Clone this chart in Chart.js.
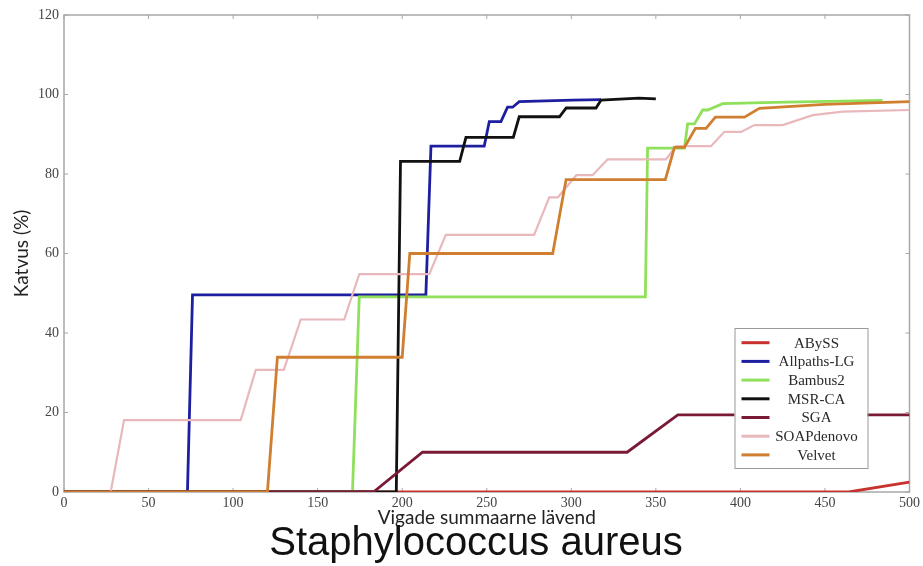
<!DOCTYPE html>
<html>
<head>
<meta charset="utf-8">
<script src="https://cdn.jsdelivr.net/npm/chart.js@4.4.1/dist/chart.umd.min.js"></script>
<style>
    html, body { margin: 0; padding: 0; background: #fff; }
</style>
</head>
<body>
<canvas id="coverageChart" width="923" height="566"></canvas>
<script>
// Assemblers (legend order)
const seriesNames = ['ABySS', 'Allpaths-LG', 'Bambus2', 'MSR-CA', 'SGA', 'SOAPdenovo', 'Velvet'];
const seriesColors = ['#c8322e', '#1e1ea0', '#8fe05a', '#111111', '#7a1a35', '#e8b8bc', '#cf7f2f'];
const chartTitle = 'Staphylococcus aureus';

// x = error threshold, y = coverage (%)
const abyssX = [0, 464, 500];
const abyssY = [0, 0, 2.5];

const allpathsX = [0, 73, 76, 214, 217, 248.5, 251.5, 258.4, 262.3, 265.3, 269.2, 300.6, 317.6];
const allpathsY = [0, 0, 49.6, 49.6, 87, 87, 93.2, 93.2, 96.8, 96.8, 98.2, 98.6, 98.7];

const bambusX = [0, 170.6, 174.6, 343.8, 345.1, 366.9, 368.8, 372.8, 377.7, 380.7, 389.5, 420, 484];
const bambusY = [0, 0, 49.1, 49.1, 86.5, 86.5, 92.6, 92.6, 96.1, 96.1, 97.7, 98, 98.5];

const msrcaX = [0, 196.5, 199, 234, 237.7, 265.7, 269.2, 293, 297, 314.6, 317.6, 340, 350];
const msrcaY = [0, 0, 83.2, 83.2, 89.2, 89.2, 94.4, 94.4, 96.6, 96.6, 98.6, 99.1, 98.9];

const sgaX = [0, 183, 212, 333, 363, 500];
const sgaY = [0, 0, 10, 10, 19.4, 19.4];

const soapX = [0, 27.6, 35.5, 104.5, 113.4, 130, 140, 165.7, 174.6, 216, 225.8, 278, 287, 292, 303, 312.6, 321.5, 356, 362, 382.6, 390.5, 400.4, 408.3, 425, 442.8, 460.5, 500];
const soapY = [0, 0, 18.1, 18.1, 30.7, 30.7, 43.4, 43.4, 54.8, 54.8, 64.7, 64.7, 74.1, 74.1, 79.7, 79.7, 83.7, 83.7, 87, 87, 90.6, 90.6, 92.3, 92.3, 94.8, 95.7, 96.1];

const velvetX = [0, 120.3, 126.2, 200, 204.5, 289, 296.9, 355.6, 361, 366.9, 373.4, 379.7, 385.2, 402.4, 411.2, 450, 500];
const velvetY = [0, 0, 33.9, 33.9, 60, 60, 78.6, 78.6, 86.7, 86.7, 91.5, 91.5, 94.3, 94.3, 96.5, 97.5, 98.2];

const seriesX = [abyssX, allpathsX, bambusX, msrcaX, sgaX, soapX, velvetX];
const seriesY = [abyssY, allpathsY, bambusY, msrcaY, sgaY, soapY, velvetY];

const tickFont = { family: 'Liberation Serif', size: 14 };
const labelFont = { family: 'Lato', size: 19, lineHeight: 1 };

// gray frame with inward tick marks on all four sides
const frame = {
    id: 'frame',
    beforeDatasetsDraw(chart) {
        const { ctx, chartArea: a, scales } = chart;
        ctx.save();
        ctx.strokeStyle = '#a8a8a8';
        ctx.lineWidth = 1.5;
        ctx.strokeRect(a.left, a.top, a.right - a.left, a.bottom - a.top);
        ctx.lineWidth = 1;
        ctx.beginPath();
        scales.x.ticks.forEach(t => {
            const px = scales.x.getPixelForValue(t.value);
            ctx.moveTo(px, a.bottom); ctx.lineTo(px, a.bottom - 4);
            ctx.moveTo(px, a.top); ctx.lineTo(px, a.top + 4);
        });
        scales.y.ticks.forEach(t => {
            const py = scales.y.getPixelForValue(t.value);
            ctx.moveTo(a.left, py); ctx.lineTo(a.left + 4, py);
            ctx.moveTo(a.right, py); ctx.lineTo(a.right - 4, py);
        });
        ctx.stroke();
        ctx.restore();
    }
};

// legend box inside the plot, lower right
const boxLegend = {
    id: 'boxLegend',
    afterDraw(chart) {
        const { ctx, chartArea: a } = chart;
        const w = 133, h = 140;
        const x0 = a.right - 42 - w, y0 = a.bottom - 24 - h;
        ctx.save();
        ctx.fillStyle = '#fff';
        ctx.fillRect(x0, y0, w, h);
        ctx.strokeStyle = '#999';
        ctx.lineWidth = 1;
        ctx.strokeRect(x0 + 0.5, y0 + 0.5, w, h);
        ctx.font = '15px "Liberation Serif"';
        ctx.textAlign = 'center';
        ctx.textBaseline = 'middle';
        chart.data.datasets.forEach((ds, i) => {
            const y = y0 + 14.7 + i * 18.7;
            ctx.strokeStyle = ds.borderColor;
            ctx.lineWidth = 3;
            ctx.beginPath();
            ctx.moveTo(x0 + 7, y);
            ctx.lineTo(x0 + 35, y);
            ctx.stroke();
            ctx.fillStyle = '#2a2a2a';
            ctx.fillText(ds.label, x0 + 82, y + 1);
        });
        ctx.restore();
    }
};

// big caption under the axis title, a little right of centre like the source
const bottomTitle = {
    id: 'bottomTitle',
    afterDraw(chart) {
        const { ctx, chartArea: a } = chart;
        ctx.save();
        ctx.font = '40px "Liberation Sans"';
        ctx.fillStyle = '#111';
        ctx.textAlign = 'center';
        ctx.textBaseline = 'alphabetic';
        ctx.fillText(chartTitle, a.left + 412, a.bottom + 63);
        ctx.restore();
    }
};

const datasets = seriesNames.map((name, i) => ({
    label: name,
    data: seriesX[i].map((x, k) => ({ x: x, y: seriesY[i][k] })),
    borderColor: seriesColors[i],
    borderWidth: name === 'SOAPdenovo' ? 2.2 : 2.8,
    pointRadius: 0,
    tension: 0,
    fill: false,
    order: seriesNames.length - i
}));

new Chart(document.getElementById('coverageChart'), {
    type: 'line',
    data: { datasets: datasets },
    options: {
        responsive: false,
        animation: false,
        layout: { padding: { top: 15, right: 13, left: 0, bottom: 44 } },
        plugins: {
            legend: { display: false },
            tooltip: { enabled: false }
        },
        scales: {
            x: {
                type: 'linear',
                min: 0,
                max: 500,
                grid: { display: false, drawTicks: false },
                border: { display: false },
                ticks: { stepSize: 50, color: '#444', font: tickFont, padding: 3, maxRotation: 0 },
                title: { display: true, text: 'Vigade summaarne lävend', color: '#222', font: labelFont, padding: { top: 0, bottom: -5 } },
                afterFit: s => { s.height = 30; }
            },
            y: {
                min: 0,
                max: 120,
                grid: { display: false, drawTicks: false },
                border: { display: false },
                ticks: { stepSize: 20, color: '#444', font: tickFont, padding: 5 },
                title: { display: true, text: 'Katvus (%)', color: '#222', font: labelFont, padding: { top: 12, bottom: 0 } },
                afterFit: s => { s.width = 64; }
            }
        }
    },
    plugins: [frame, boxLegend, bottomTitle]
});
</script>
</body>
</html>
